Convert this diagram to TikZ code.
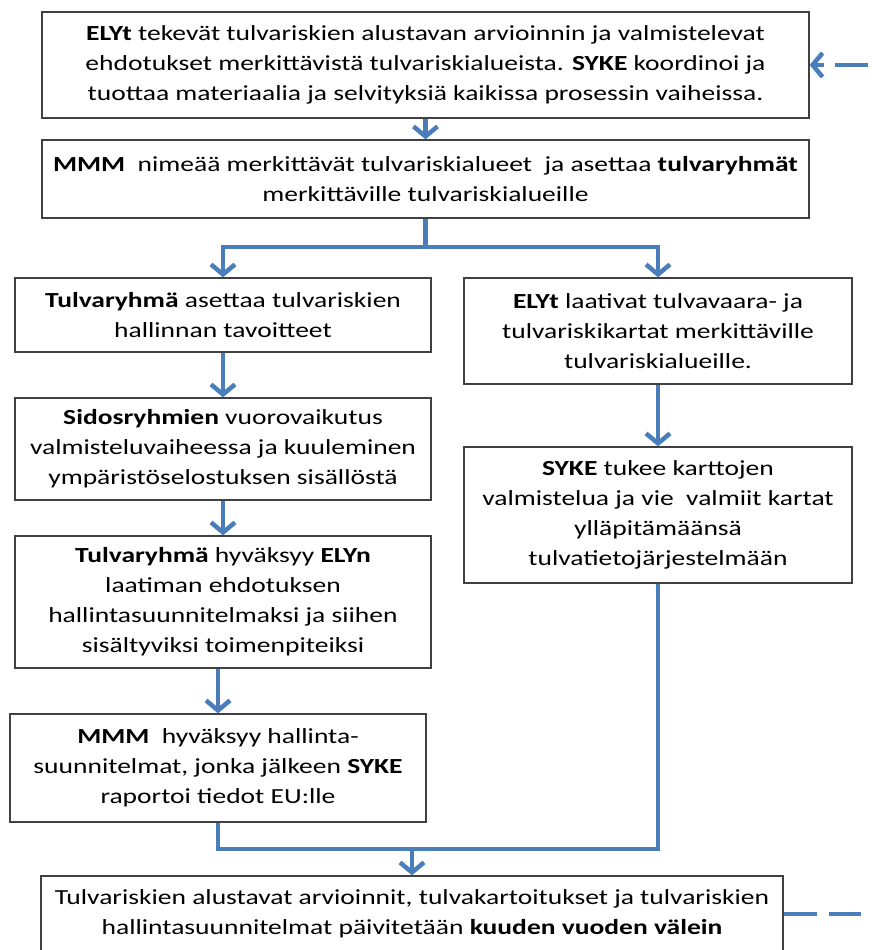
\documentclass[tikz,border=0pt]{standalone}
\usepackage{fontspec}
\setmainfont{Carlito}[FakeStretch=1.28]
\usepackage{xcolor}
\usetikzlibrary{arrows.meta, positioning}

\definecolor{flowblue}{HTML}{4A7EBB}
\tikzset{
    stepbox/.style={draw=black!75, line width=1.3pt, fill=white, align=center, inner sep=0pt,
        font=\fontsize{21.5}{30}\selectfont},
    flowline/.style={draw=flowblue, line width=4.5pt},
    flow/.style={flowline, -{Straight Barb[length=10pt, width=24pt]}},
}

\begin{document}
\begin{tikzpicture}[x=1pt, y=-1pt]
    \clip (0, 0) rectangle (872, 950);
    \useasboundingbox (0, 0) rectangle (872, 950);

    \node[stepbox, minimum width=767pt, minimum height=106pt] (elyt) at (425.5, 65)
        {\textbf{ELYt} tekevät tulvariskien alustavan arvioinnin ja valmistelevat\\
         ehdotukset merkittävistä tulvariskialueista. \textbf{SYKE} koordinoi ja\\
         tuottaa materiaalia ja selvityksiä kaikissa prosessin vaiheissa.};
    \node[stepbox, minimum width=767pt, minimum height=78pt] (mmm) at (425.5, 179)
        {\textbf{MMM}\ \ nimeää merkittävät tulvariskialueet\ \ ja asettaa \textbf{tulvaryhmät}\\
         merkittäville tulvariskialueille};

    % vasen haara
    \node[stepbox, minimum width=416pt, minimum height=74pt] (tavoite) at (223, 315)
        {\textbf{Tulvaryhmä} asettaa tulvariskien\\ hallinnan tavoitteet};
    \node[stepbox, minimum width=416pt, minimum height=102pt] (sidos) at (223, 449)
        {\textbf{Sidosryhmien} vuorovaikutus\\ valmisteluvaiheessa ja kuuleminen\\
         ympäristöselostuksen sisällöstä};
    \node[stepbox, minimum width=416pt, minimum height=132pt] (hyvaksy) at (223, 602)
        {\textbf{Tulvaryhmä} hyväksyy \textbf{ELYn}\\ laatiman ehdotuksen\\
         hallintasuunnitelmaksi ja siihen\\ sisältyviksi toimenpiteiksi};
    \node[stepbox, minimum width=416pt, minimum height=108pt] (raportti) at (218, 768)
        {\textbf{MMM}\ \ hyväksyy hallinta-\\ suunnitelmat, jonka jälkeen \textbf{SYKE}\\
         raportoi tiedot EU:lle};

    % oikea haara
    \node[stepbox, minimum width=388pt, minimum height=106pt] (kartat) at (658, 331)
        {\textbf{ELYt} laativat tulvavaara- ja\\ tulvariskikartat merkittäville\\
         tulvariskialueille.};
    \node[stepbox, minimum width=388pt, minimum height=136pt] (syke) at (658, 515)
        {\textbf{SYKE} tukee karttojen\\ valmistelua ja vie\ \ valmiit kartat\\
         ylläpitämäänsä\\ tulvatietojärjestelmään};

    \node[stepbox, minimum width=742pt, minimum height=76pt] (paivitys) at (412, 914)
        {Tulvariskien alustavat arvioinnit, tulvakartoitukset ja tulvariskien\\
         hallintasuunnitelmat päivitetään \textbf{kuuden vuoden välein}};

    \coordinate (split) at (425.5, 247);
    \coordinate (merge) at (412, 849);
    \coordinate (backin) at (868, 65);
    \coordinate (backout) at (861, 914);

    \draw[flow] (elyt) -- (mmm);
    \draw[flowline] (mmm) -- (split);
    \draw[flow] (split) -| (tavoite);
    \draw[flow] (split) -| (kartat);
    \draw[flow] (tavoite) -- (sidos);
    \draw[flow] (sidos) -- (hyvaksy);
    \draw[flow] (hyvaksy.south -| raportti) -- (raportti);
    \draw[flow] (kartat) -- (syke);
    \draw[flowline] (raportti) |- (merge) -| (syke);
    \draw[flow] (merge) -- (paivitys);

    % kuuden vuoden kierto
    \draw[flow, dash pattern=on 33pt off 11pt] (backin) -- (elyt.east |- backin);
    \draw[flowline, dash pattern=on 33pt off 12pt] (paivitys.east |- backout) -- (backout);
\end{tikzpicture}
\end{document}
